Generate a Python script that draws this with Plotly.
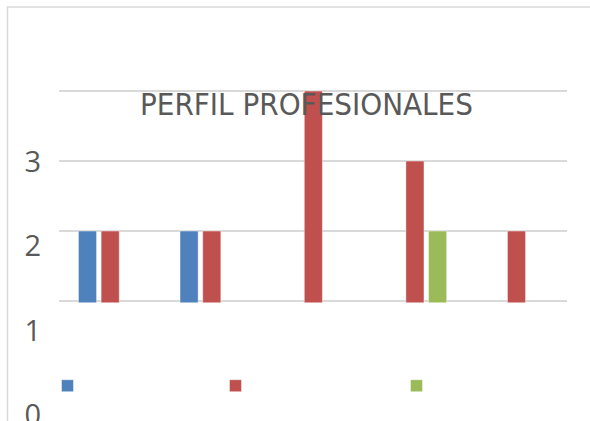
import plotly.graph_objects as go

# --- data -------------------------------------------------------------
categories = ["A", "B", "C", "D", "E"]
serie1 = [2, 2, None, None, None]
serie2 = [2, 2, 4, 3, 2]
serie3 = [None, None, None, 2, None]
series_names = ["Serie1", "Serie2", "Serie3"]
series_colors = ["#4f81bd", "#c0504d", "#9bbb59"]
value_ticks = [0, 1, 2, 3]
title_text = "PERFIL PROFESIONALES"

W, H = 590, 421
GRID = "#d9d9d9"
TEXT = "#595959"
UNIT = 70.0  # pixels per unit on the bar axis


def px_x(p):
    return p / W


def px_y(p):
    return (H - p) / H


fig = go.Figure()

legends = ["legend", "legend2", "legend3"]
for vals, name, col, lg in zip([serie1, serie2, serie3], series_names,
                               series_colors, legends):
    fig.add_trace(go.Bar(
        x=categories, y=vals, name=name,
        marker=dict(color=col, line=dict(color="rgba(255,255,255,0.45)", width=1)),
        legend=lg,
    ))

# empty helper subplot carrying the value labels
fig.add_trace(go.Scatter(x=[], y=[], xaxis="x2", yaxis="y2",
                         showlegend=False, hoverinfo="skip"))

fig.update_layout(
    width=W, height=H,
    margin=dict(l=0, r=0, t=0, b=0),
    paper_bgcolor="white", plot_bgcolor="rgba(0,0,0,0)",
    barmode="group", bargap=0.33, bargroupgap=0.2,
    showlegend=True,
    xaxis=dict(domain=[px_x(59.4), px_x(567.3)], showticklabels=False,
               showgrid=False, zeroline=False, showline=False, ticks="",
               automargin=False),
    yaxis=dict(domain=[px_y(302.6), px_y(49)],
               range=[1 - 1.6 / UNIT, 1 + (301 - 49) / UNIT],
               tickvals=[1, 2, 3, 4], showticklabels=False,
               showgrid=True, gridcolor=GRID, gridwidth=1.5,
               zeroline=False, showline=False, automargin=False),
    xaxis2=dict(domain=[px_x(42), 1], anchor="y2", visible=False,
                range=[0, 1], automargin=False),
    yaxis2=dict(domain=[0, px_y(105)], anchor="x2",
                range=[-6 / 84.5, (415 - 105) / 84.5],
                tickvals=value_ticks, ticktext=[str(v) for v in value_ticks],
                showgrid=False, zeroline=False, showline=False, ticks="",
                ticklabeloverflow="allow",
                tickfont=dict(family="Open Sans", size=29, color=TEXT),
                automargin=False),
    font=dict(family="Liberation Sans", color=TEXT),
)

# one legend box per series, spread along the bottom
legend_centers = [67.5, 235.5, 416.5]
for lg, cx in zip(legends, legend_centers):
    fig.update_layout({lg: dict(
        x=px_x(cx - 20), xanchor="left",
        y=px_y(385.7), yanchor="middle",
        orientation="h", bgcolor="rgba(0,0,0,0)",
        font=dict(size=12, color="rgba(0,0,0,0)"),
        itemclick=False, itemdoubleclick=False,
    )})

fig.add_annotation(
    text=title_text, xref="paper", yref="paper",
    x=px_x(306), y=px_y(104), xanchor="center", yanchor="middle",
    showarrow=False,
    font=dict(family="DejaVu Sans Condensed, Liberation Sans", size=31, color=TEXT),
)

# chart frame (top and left edges visible)
fig.add_shape(type="rect", xref="paper", yref="paper",
              x0=px_x(7.5), x1=1.05, y0=-0.05, y1=px_y(7),
              line=dict(color=GRID, width=1.5), fillcolor="rgba(0,0,0,0)",
              layer="below")

fig.write_html("out.html")
